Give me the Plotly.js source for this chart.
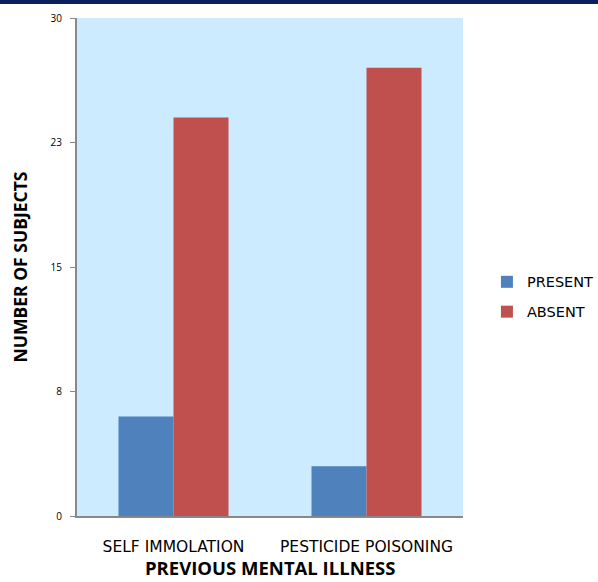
<!DOCTYPE html>
<html>
<head>
<meta charset="utf-8">
<script src="https://cdn.plot.ly/plotly-3.0.1.min.js"></script>
<style>html,body{margin:0;padding:0;background:#fff;}#chart{width:598px;height:582px;}</style>
</head>
<body>
<div id="chart"></div>
<script>
const categories = ["SELF IMMOLATION", "PESTICIDE POISONING"];
const presentValues = [6, 3];
const absentValues = [24, 27];
const yTickVals = [0, 7.5, 15, 22.5, 30];
const yTickText = ["0", "8", "15", "23", "30"];
const xTitle = "PREVIOUS MENTAL ILLNESS";
const yTitle = "NUMBER OF SUBJECTS";

const font = "'Open Sans', Lato, sans-serif";
const wideFont = "'DejaVu Sans', 'Open Sans', sans-serif";

const data = [
  {type: "bar", name: "PRESENT", legendgroup: "p", x: categories, y: presentValues, marker: {color: "#4F81BD"}},
  {type: "bar", name: "ABSENT", legendgroup: "a", x: categories, y: absentValues, marker: {color: "#C0504D"}}
];

const layout = {
  width: 598, height: 582,
  margin: {l: 77, r: 135, t: 18, b: 66, pad: 0, autoexpand: false},
  paper_bgcolor: "#ffffff",
  plot_bgcolor: "#CCEBFF",
  barmode: "group",
  bargap: 0.43,
  bargroupgap: 0,
  font: {family: font, color: "#000"},
  showlegend: true,
  legend: {x: 1.062, y: 0.44, xanchor: "left", yanchor: "middle", traceorder: "grouped", tracegroupgap: 8,
           font: {family: wideFont, size: 14.5, color: "#000"}, itemwidth: 30},
  xaxis: {
    showline: true, linecolor: "#888", linewidth: 2,
    ticks: "", tickfont: {family: wideFont, size: 15.5, color: "#000"}, ticklabelstandoff: 15,
    title: {text: ""},
    fixedrange: true
  },
  yaxis: {
    range: [0, 30], showline: true, linecolor: "#888", linewidth: 2,
    ticks: "outside", ticklen: 5, tickcolor: "#888",
    tickvals: yTickVals, ticktext: yTickText, ticklabelstandoff: 6,
    tickfont: {size: 10, color: "#000"},
    showgrid: false, zeroline: false,
    title: {text: "<b>" + yTitle + "</b>", font: {size: 17.5, color: "#000"}, standoff: 18},
    fixedrange: true
  },
  annotations: [{
    text: "<b>" + xTitle + "</b>", xref: "paper", yref: "paper", x: 0.5, y: -0.104,
    xanchor: "center", yanchor: "middle", showarrow: false, borderpad: 0,
    font: {family: font, size: 18.5, color: "#000"}
  }],
  shapes: [{
    type: "rect", xref: "paper", yref: "paper",
    x0: -77/386, x1: 1 + 135/386, y0: 1 + 14/498, y1: 1 + 18/498,
    fillcolor: "#0B1F5C", line: {width: 0}
  }]
};

Plotly.newPlot("chart", data, layout, {displayModeBar: false, staticPlot: true});
</script>
</body>
</html>
